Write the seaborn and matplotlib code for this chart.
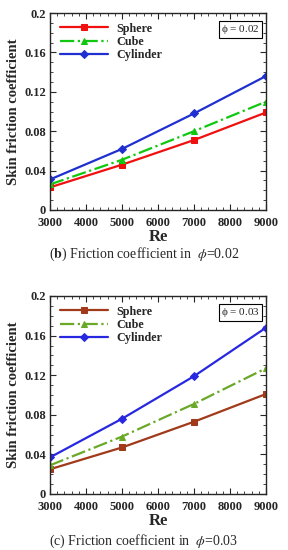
import numpy as np
import pandas as pd
import seaborn as sns
import matplotlib.pyplot as plt
from matplotlib.ticker import MultipleLocator, FuncFormatter

re_vals = [3000, 5000, 7000, 9000]
shapes = ['Sphere', 'Cube', 'Cylinder']

# phi = 0.02
sphere_b = [0.023, 0.046, 0.071, 0.099]
cube_b = [0.026, 0.051, 0.080, 0.110]
cyl_b = [0.031, 0.062, 0.098, 0.136]

# phi = 0.03
sphere_c = [0.025, 0.047, 0.073, 0.101]
cube_c = [0.029, 0.058, 0.091, 0.127]
cyl_c = [0.037, 0.076, 0.119, 0.168]

sns.set_style('ticks')
plt.rcParams['font.family'] = ['Liberation Serif', 'DejaVu Serif']
plt.rcParams['mathtext.fontset'] = 'stix'


def make_df(sp, cu, cy):
    rows = []
    for name, vals in zip(shapes, [sp, cu, cy]):
        for r, v in zip(re_vals, vals):
            rows.append({'Re': r, 'Cf': v, 'shape': name})
    return pd.DataFrame(rows)


def draw(ax, df, colors, phi_txt):
    styles = {'Sphere': ('-', 's'), 'Cube': ('-.', '^'), 'Cylinder': ('-', 'D')}
    for name in shapes:
        d = df[df['shape'] == name]
        ls, mk = styles[name]
        sns.lineplot(data=d, x='Re', y='Cf', ax=ax, color=colors[name],
                     linestyle=ls, marker=mk, markersize=4.5 if mk != 'D' else 4,
                     markeredgecolor=colors[name], linewidth=1.6, label=name)
    ax.set_xlim(3000, 9000)
    ax.set_ylim(0, 0.2)
    ax.xaxis.set_major_locator(MultipleLocator(1000))
    ax.xaxis.set_minor_locator(MultipleLocator(200))
    ax.yaxis.set_major_locator(MultipleLocator(0.04))
    ax.yaxis.set_minor_locator(MultipleLocator(0.01))
    ax.yaxis.set_major_formatter(FuncFormatter(lambda v, p: '0' if abs(v) < 1e-9 else f'{v:g}'))
    ax.tick_params(which='both', direction='in', top=True, right=True, labelsize=9)
    ax.tick_params(axis='x', pad=5)
    ax.tick_params(axis='y', pad=3)
    ax.tick_params(which='major', length=4)
    ax.tick_params(which='minor', length=2)
    for lab in ax.get_xticklabels() + ax.get_yticklabels():
        lab.set_fontweight('bold')
    for s in ax.spines.values():
        s.set_linewidth(1.0)
    ax.set_xlabel('Re', fontsize=12, fontweight='bold', labelpad=0)
    ax.set_ylabel('Skin friction coefficient', fontsize=10.5, fontweight='bold', labelpad=3)
    ax.legend(loc='upper left', frameon=False, handlelength=4.0, handletextpad=0.7,
              borderaxespad=0.4, labelspacing=0.1, prop={'weight': 'bold', 'size': 8.7})
    ax.text(0.97, 0.95, r'$\mathregular{\phi}$ = ' + phi_txt, transform=ax.transAxes,
            ha='right', va='top', fontsize=8,
            bbox=dict(boxstyle='square,pad=0.2', fc='white', ec='black', lw=0.8))


fig = plt.figure(figsize=(2.88, 5.5), dpi=100)
ax1 = fig.add_axes([50 / 288, 1 - 210 / 550, 216 / 288, 197 / 550])
ax2 = fig.add_axes([50 / 288, 1 - 494 / 550, 216 / 288, 198 / 550])

draw(ax1, make_df(sphere_b, cube_b, cyl_b),
     {'Sphere': '#f01010', 'Cube': '#10c810', 'Cylinder': '#2030d0'}, '0.02')
draw(ax2, make_df(sphere_c, cube_c, cyl_c),
     {'Sphere': '#a03a1a', 'Cube': '#6aa828', 'Cylinder': '#2828e0'}, '0.03')

fig.text(0.5, 1 - 254 / 550, r'($\mathbf{b}$) Friction coefficient in  $\phi$=0.02',
         ha='center', va='center', fontsize=10)
fig.text(0.5, 1 - 541 / 550, r'(c) Friction coefficient in  $\phi$=0.03',
         ha='center', va='center', fontsize=10)

fig.savefig('out.png', dpi=100)
